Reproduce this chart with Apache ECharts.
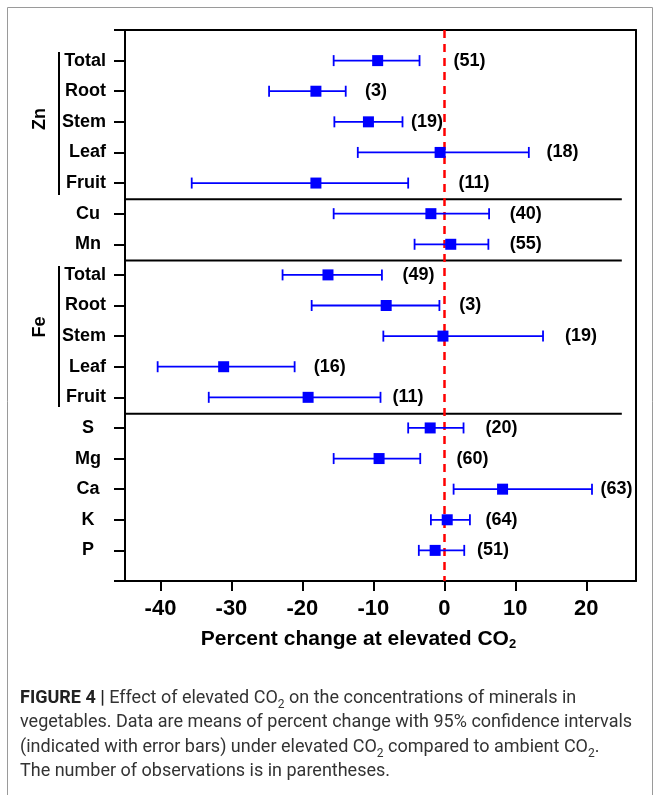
<!DOCTYPE html>
<html><head><meta charset="utf-8">
<script src="https://cdn.jsdelivr.net/npm/echarts@6/dist/echarts.min.js"></script>
<style>html,body{margin:0;padding:0;background:#fff}#c{width:660px;height:795px}</style>
</head><body><div id="c"></div>
<script>
// ---- data ----
const rowLabels = ['Total','Root','Stem','Leaf','Fruit','Cu','Mn','Total','Root','Stem','Leaf','Fruit','S','Mg','Ca','K','P'];
const rowIsSub  = [true,true,true,true,true,false,false,true,true,true,true,true,false,false,false,false,false];
const means = [-9.4,-18.1,-10.7,-0.6,-18.1,-1.9,0.9,-16.4,-8.2,-0.2,-31.1,-19.2,-2.0,-9.2,8.2,0.4,-1.3];
const lower = [-15.6,-24.7,-15.5,-12.2,-35.6,-15.6,-4.2,-22.8,-18.7,-8.6,-40.4,-33.2,-5.1,-15.6,1.3,-1.9,-3.6];
const upper = [-3.5,-13.9,-5.9,11.9,-5.1,6.3,6.2,-8.8,-0.7,13.9,-21.1,-9.0,2.7,-3.4,20.8,3.6,2.8];
const counts = [51,3,19,18,11,40,55,49,3,19,16,11,20,60,63,64,51];
const countLabelAt = [1.3,-11.2,-4.7,14.4,2.0,9.2,9.2,-5.9,2.1,17.0,-18.4,-7.3,5.8,1.7,22.0,5.8,4.6];
const groupNames = ['Zn','Fe'];
const groupEnds = [4,6,11];
const xTicks = [-40,-30,-20,-10,0,10,20];
const xMin = -45, xMax = 27, sepEnd = 25;

const cats = ['top'].concat(rowLabels.map((l,i)=>'r'+i)).concat(['bot']);
const BOLD = 'bold';
const FONT = '"Liberation Sans", Arial, sans-serif';
const CAP = 'Roboto, "Liberation Sans", sans-serif';

const chart = echarts.init(document.getElementById('c'), null, {renderer:'canvas'});
chart.setOption({
  animation:false,
  backgroundColor:'#fff',
  grid:{left:125, top:30, width:511, height:551, containLabel:false},
  xAxis:[{
    type:'value', min:xMin, max:xMax, position:'bottom',
    axisLine:{show:true, onZero:false, lineStyle:{color:'#000', width:2}},
    axisTick:{show:true, length:10, lineStyle:{color:'#000', width:2}, customValues:xTicks},
    axisLabel:{show:true, customValues:xTicks, margin:17, color:'#000', fontSize:22, fontWeight:BOLD, fontFamily:FONT},
    splitLine:{show:false},
    name:'{t|Percent change at elevated CO}{s|2}',
    nameLocation:'middle', nameGap:46,
    nameTextStyle:{padding:[0,44,0,0], rich:{
      t:{fontSize:21, fontWeight:BOLD, color:'#000', fontFamily:FONT, lineHeight:24},
      s:{fontSize:13, fontWeight:BOLD, color:'#000', fontFamily:FONT, lineHeight:24, verticalAlign:'bottom', padding:[6,0,0,0]}
    }}
  },{
    type:'value', min:xMin, max:xMax, position:'top',
    axisLine:{show:true, onZero:false, lineStyle:{color:'#000', width:2}},
    axisTick:{show:false}, axisLabel:{show:false}, splitLine:{show:false}
  }],
  yAxis:[{
    type:'category', data:cats, inverse:true, boundaryGap:false, position:'left',
    axisLine:{show:true, onZero:false, lineStyle:{color:'#000', width:2}},
    axisTick:{show:true, length:11, lineStyle:{color:'#000', width:2}, interval:0},
    axisLabel:{show:true, interval:0, margin:19, align:'right',
      formatter:function(v){
        if(v==='top'||v==='bot') return '';
        const i = +v.slice(1);
        return rowIsSub[i] ? '{a|'+rowLabels[i]+'}' : '{b|'+rowLabels[i]+'}';
      },
      rich:{
        a:{fontSize:18, fontWeight:BOLD, color:'#000', fontFamily:FONT},
        b:{fontSize:18, fontWeight:BOLD, color:'#000', fontFamily:FONT, width:36, align:'center'}
      }
    },
    splitLine:{show:false}
  },{
    type:'value', position:'right', min:0, max:1,
    axisLine:{show:true, onZero:false, lineStyle:{color:'#000', width:2}},
    axisTick:{show:false}, axisLabel:{show:false}, splitLine:{show:false}
  }],
  series:[
    { // group separators
      type:'custom', xAxisIndex:0, yAxisIndex:0, silent:true, z:1,
      data: groupEnds.map(e=>[e+1]),
      encode:{y:0},
      renderItem:function(params, api){
        const e = api.value(0);
        const a = api.coord([xMin, e]);
        const b = api.coord([sepEnd, e+1]);
        const y = (a[1]+b[1])/2 + 1;
        return {type:'line', shape:{x1:a[0], y1:y, x2:b[0], y2:y}, style:{stroke:'#000', lineWidth:2}};
      }
    },
    { // error bars
      type:'custom', xAxisIndex:0, yAxisIndex:0, silent:true, z:3,
      data: means.map((m,i)=>[lower[i], upper[i], i+1]),
      encode:{x:[0,1], y:2},
      renderItem:function(params, api){
        const lo = api.coord([api.value(0), api.value(2)]);
        const hi = api.coord([api.value(1), api.value(2)]);
        const c = 5.5, st = {stroke:'#0000ff', lineWidth:1.8};
        return {type:'group', children:[
          {type:'line', shape:{x1:lo[0], y1:lo[1], x2:hi[0], y2:hi[1]}, style:st},
          {type:'line', shape:{x1:lo[0], y1:lo[1]-c, x2:lo[0], y2:lo[1]+c}, style:st},
          {type:'line', shape:{x1:hi[0], y1:hi[1]-c, x2:hi[0], y2:hi[1]+c}, style:st}
        ]};
      }
    },
    { // means
      type:'scatter', xAxisIndex:0, yAxisIndex:0, z:4, silent:true,
      data: means.map((m,i)=>[m, i+1]),
      symbol:'rect', symbolSize:11,
      itemStyle:{color:'#0000ff', opacity:1},
      markLine:{
        silent:true, symbol:'none', z:2,
        label:{show:false},
        lineStyle:{color:'#ff0000', type:[8,6], width:2.5},
        data:[{xAxis:0}]
      }
    },
    { // counts
      type:'custom', xAxisIndex:0, yAxisIndex:0, silent:true, z:5,
      data: counts.map((n,i)=>[countLabelAt[i], i+1, n]),
      encode:{x:0, y:1},
      renderItem:function(params, api){
        const p = api.coord([api.value(0), api.value(1)]);
        return {type:'text', x:p[0], y:p[1], style:{
          text:'('+api.value(2)+')', fill:'#000', font:'bold 18px '+FONT,
          align:'left', verticalAlign:'middle'
        }};
      }
    }
  ],
  graphic:[
    {type:'rect', shape:{x:7.5, y:7.5, width:645, height:800}, style:{fill:'none', stroke:'#9a9a9a', lineWidth:1}, silent:true, z:0},
    {type:'line', shape:{x1:59, y1:52, x2:59, y2:195}, style:{stroke:'#000', lineWidth:2}, silent:true},
    {type:'line', shape:{x1:59, y1:266, x2:59, y2:407}, style:{stroke:'#000', lineWidth:2}, silent:true},
    {type:'text', x:40, y:119, rotation:Math.PI/2, style:{text:groupNames[0], font:'bold 18px '+FONT, fill:'#000', align:'center', verticalAlign:'middle'}},
    {type:'text', x:40, y:327, rotation:Math.PI/2, style:{text:groupNames[1], font:'bold 18px '+FONT, fill:'#000', align:'center', verticalAlign:'middle'}},
    {type:'text', x:20, y:686, style:{
      text:'{b|FIGURE 4 |} Effect of elevated CO{s|2} on the concentrations of minerals in\nvegetables. Data are means of percent change with 95% confidence intervals\n(indicated with error bars) under elevated CO{s|2} compared to ambient CO{s|2}.\nThe number of observations is in parentheses.',
      fill:'#333', fontSize:18, fontFamily:CAP, lineHeight:24.5,
      rich:{
        b:{fontWeight:'bold', fontSize:18, fontFamily:CAP, fill:'#222', lineHeight:24.5},
        s:{fontSize:12, fontFamily:CAP, fill:'#333', lineHeight:24.5, verticalAlign:'bottom'}
      }
    }}
  ]
});
</script></body></html>
